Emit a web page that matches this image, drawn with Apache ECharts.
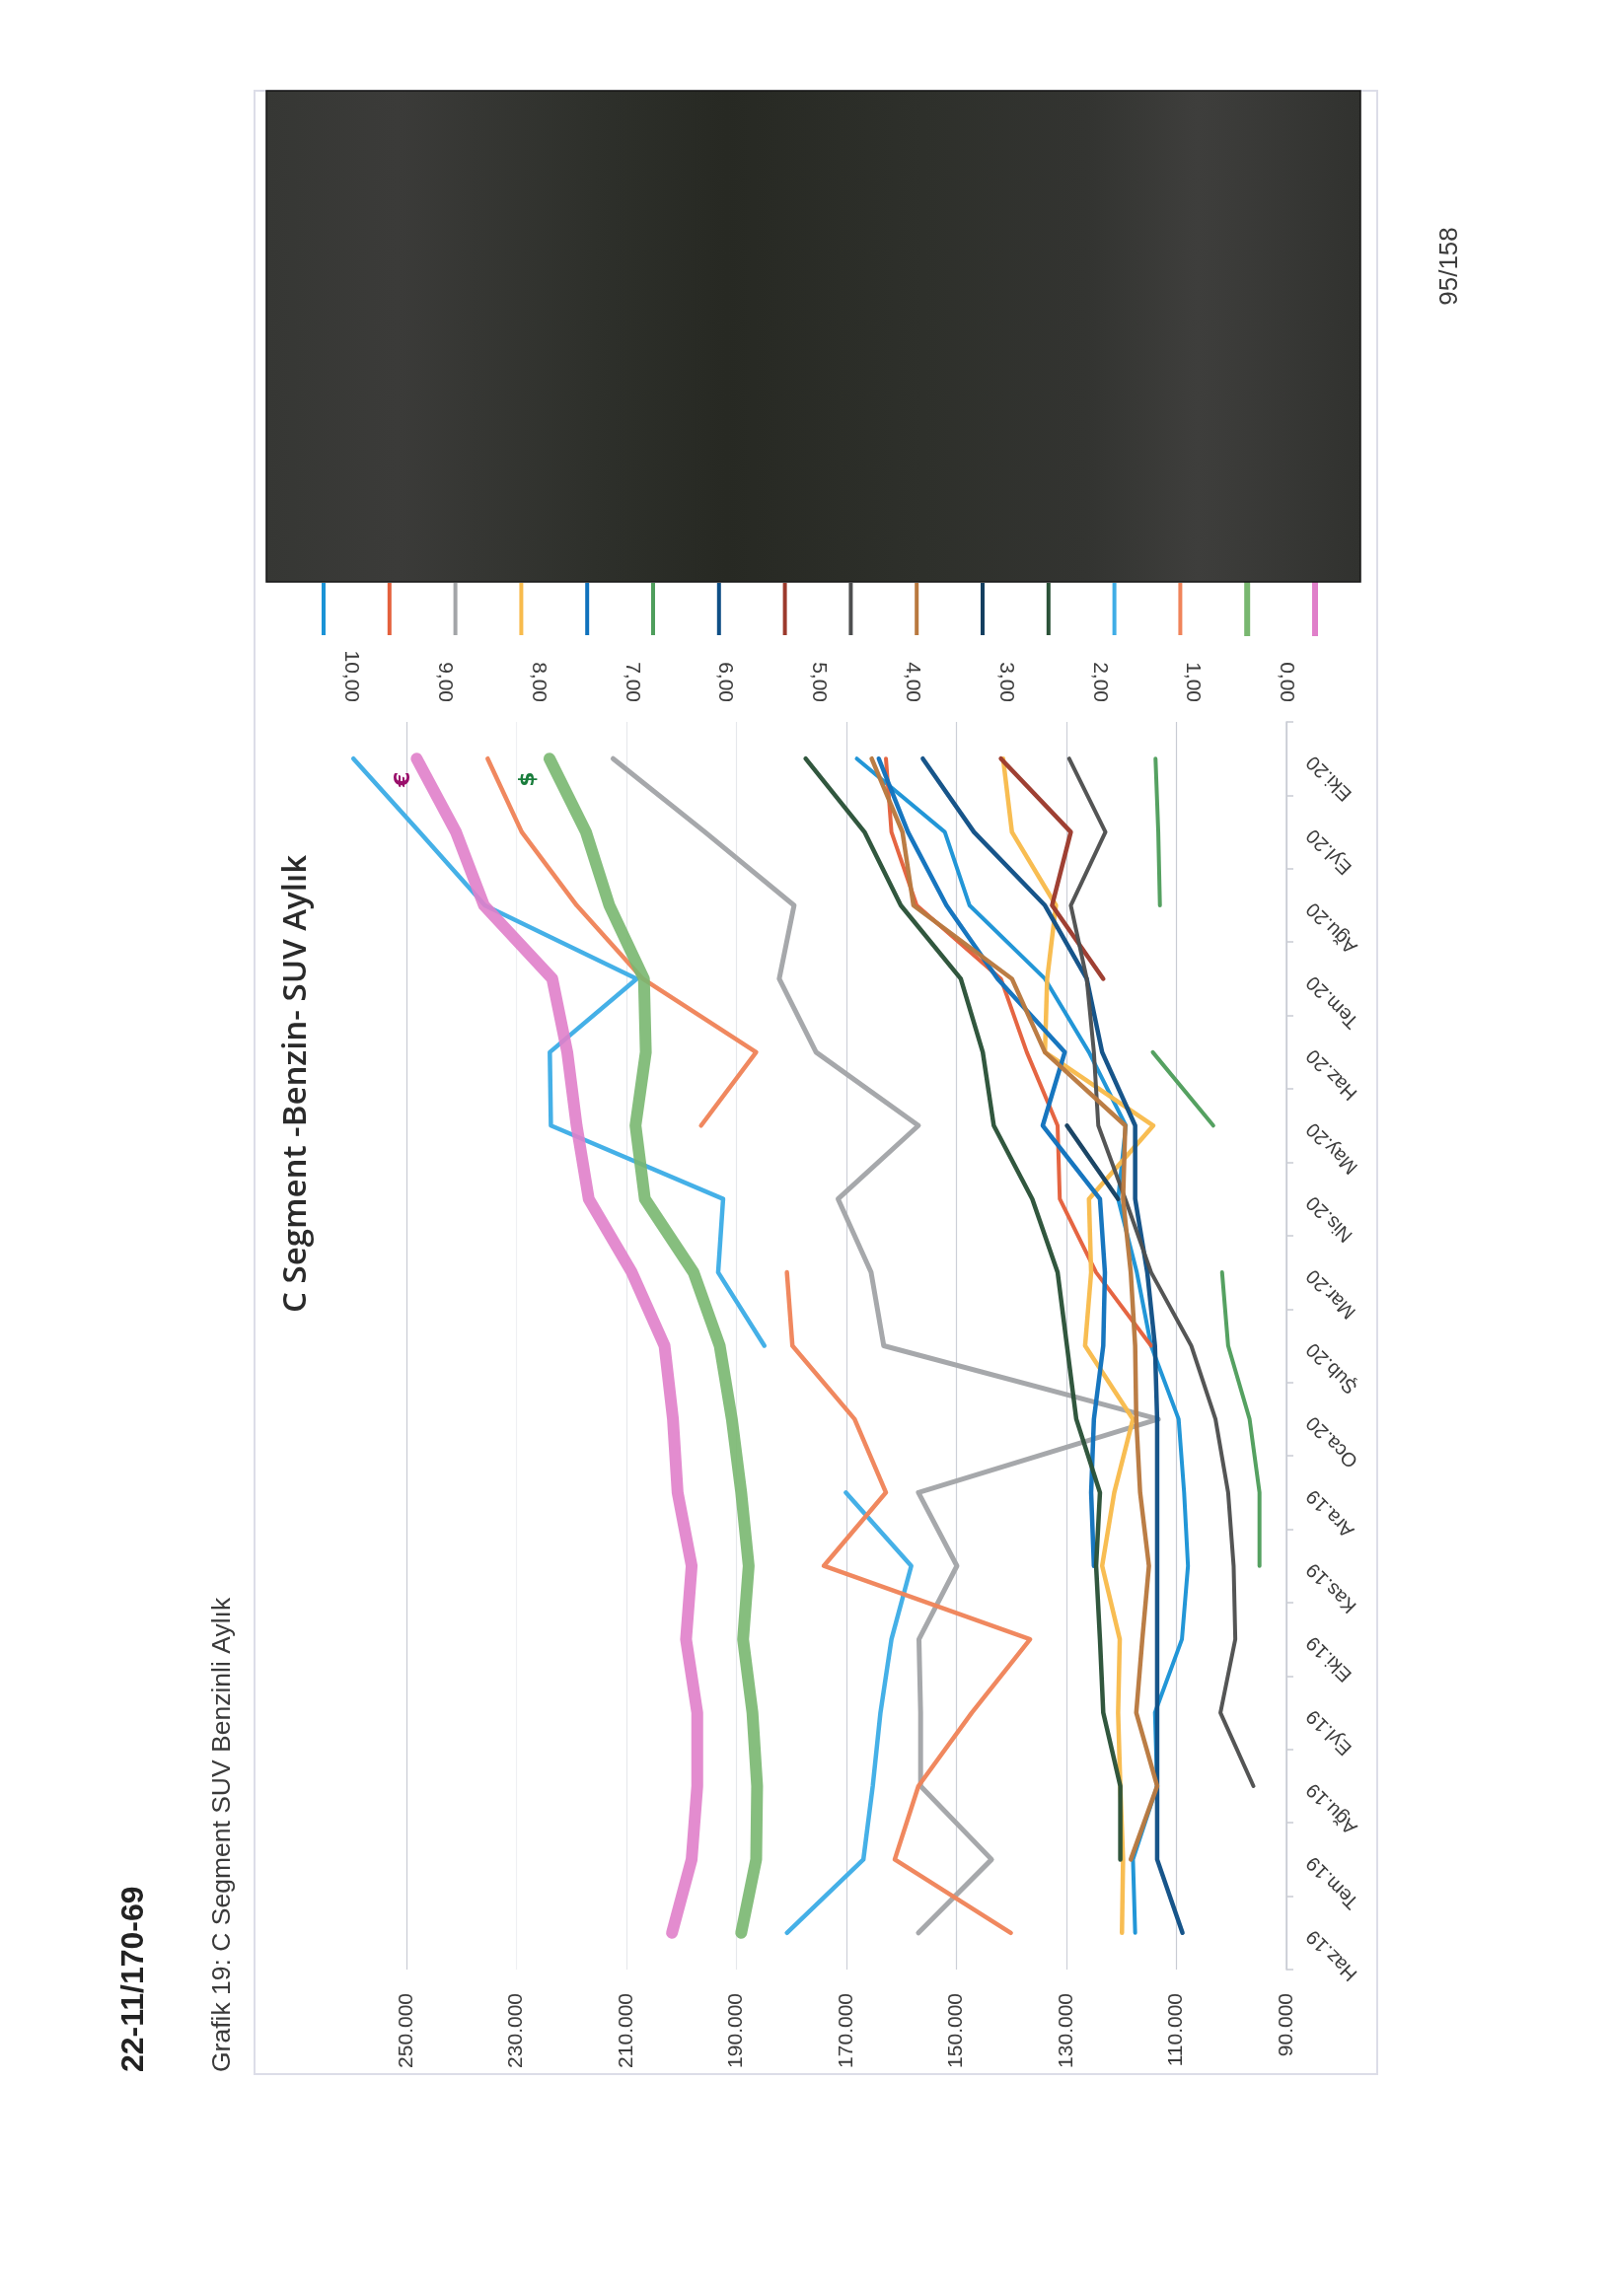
<!DOCTYPE html>
<html><head><meta charset="utf-8">
<style>html,body{margin:0;padding:0;background:#fff}#c{width:1635px;height:2328px}</style>
<script src="https://cdn.jsdelivr.net/npm/echarts@6/dist/echarts.min.js"></script>
</head><body><div id="c"></div>
<script>
const categories = ['Haz.19','Tem.19','Ağu.19','Eyl.19','Eki.19','Kas.19','Ara.19','Oca.20','Şub.20','Mar.20','Nis.20','May.20','Haz.20','Tem.20','Ağu.20','Eyl.20','Eki.20'];
const s1  = [117.5,117.9,113.5,113.9,109.0,107.9,108.6,109.6,114.6,117.2,120.6,119.2,125.9,133.9,147.6,152.1,168.1];
const s2  = [null,null,null,null,null,null,null,null,114.6,124.6,131.2,131.6,137.2,141.9,157.2,161.8,162.8];
const s3  = [156.9,143.6,156.5,156.5,156.8,149.9,156.9,113.3,163.2,165.5,171.5,156.9,175.5,182.2,179.5,195.7,212.4];
const s4  = [119.9,119.7,120.2,120.6,120.3,123.5,121.3,117.9,126.6,125.5,125.9,114.2,133.9,133.5,131.9,139.9,141.5];
const s5  = [null,null,null,null,null,125.0,125.5,125.0,123.3,123.0,123.9,134.3,130.3,142.5,151.8,158.8,164.1];
const s6  = [null,null,null,null,null,94.9,94.9,96.7,100.6,101.7,null,103.3,114.3,null,113.0,113.3,113.8];
const s7  = [108.9,113.5,113.5,113.5,113.5,113.5,113.5,113.5,113.9,115.3,117.5,117.5,123.5,126.3,133.9,146.8,156.1];
const s8  = [null,null,null,null,null,null,null,null,null,null,null,null,null,123.3,132.6,129.2,141.9];
const s9  = [null,null,96.0,102.0,99.3,99.6,100.6,102.9,107.3,114.6,119.3,124.2,125.0,126.3,129.2,122.9,129.5];
const s10 = [null,118.3,113.5,117.3,116.2,115.0,116.6,117.3,117.5,118.3,119.7,119.3,133.9,139.9,157.8,159.8,165.4];
const s11 = [null,null,null,null,null,null,null,null,null,null,120.6,129.9,null,null,null,null,null];
const s12 = [null,120.2,120.2,123.3,123.9,124.6,123.9,128.2,129.9,131.6,136.2,143.2,145.2,149.2,160.1,166.7,177.4];
const s13 = [180.8,166.9,165.2,163.8,161.8,158.2,170.1,null,184.9,193.3,192.4,223.7,223.9,208.1,235.7,247.6,259.6];
const s14 = [140.1,161.2,156.9,147.2,136.6,174.1,162.8,168.5,179.8,180.8,null,196.4,186.4,207.0,219.0,229.0,235.2];
const dolar = [5.83,5.67,5.66,5.71,5.81,5.75,5.83,5.93,6.06,6.34,6.86,6.96,6.85,6.87,7.24,7.49,7.88];
const euro  = [6.57,6.36,6.30,6.30,6.42,6.36,6.51,6.56,6.65,7.00,7.46,7.59,7.69,7.85,8.58,8.88,9.30];

const lineDefs = [
  ['Seri 1', s1, '#1b93d6', 4, 0], ['Seri 2', s2, '#e4603c', 4, 0], ['Seri 3', s3, '#a3a5a8', 5, 0],
  ['Seri 4', s4, '#f8bb4c', 4.5, 0], ['Seri 5', s5, '#0f72bd', 4.5, 0], ['Seri 6', s6, '#4f9e5c', 4, 0],
  ['Seri 7', s7, '#0f4f86', 4.5, 0], ['Seri 8', s8, '#9c3a2c', 4.5, 0], ['Seri 9', s9, '#4e4f50', 4, 0],
  ['Seri 10', s10, '#b9793f', 4.5, 0], ['Seri 11', s11, '#143f60', 4.5, 0], ['Seri 12', s12, '#2a5238', 4.5, 0],
  ['Seri 13', s13, '#3fade6', 4.5, 0], ['Seri 14', s14, '#f0845a', 4.5, 0],
  ['$', dolar, '#79b770', 12, 1], ['€', euro, '#e07fca', 12, 1]
];
const series = lineDefs.map(([name, vals, color, width, axis]) => ({
  name, type:'line', xAxisIndex:axis, yAxisIndex:0, symbol:'none', connectNulls:false, animation:false,
  data: vals.map((v,i)=>[v===null?null:v, i]),
  lineStyle:{color, width, cap:'round', join:'round', opacity:width>10?0.9:0.97},
  itemStyle:{color}
}));
const gridColor = '#c9ccd4';
const gridColors = ['#c9ccd4','#c9ccd4','#cdd0d8','#cdd0d8','#cdd0d8','#e6e8ec','#e6e8ec','#eff0f3','#c9ccd4'];
const labelFont = 'Liberation Sans';
const rot = Math.PI/2;
const txt = (x,y,text,font,fill,align='left') => ({type:'text',x,y,rotation:rot,z:20,style:{text,font,fill,align,verticalAlign:'middle'}});

const chart = echarts.init(document.getElementById('c'), null, {renderer:'canvas'});
chart.setOption({
  backgroundColor:'#ffffff',
  animation:false,
  grid:{left:356,right:1635-1304,top:732,bottom:2328-1997,containLabel:false},
  legend:{show:true,orient:'horizontal',left:326,top:590,padding:0,icon:'rect',itemWidth:4,itemHeight:53,itemGap:62.8,
    formatter:()=>'',selectedMode:false,textStyle:{fontSize:1},z:1,
    data:lineDefs.map(d=>d[3]>10?{name:d[0],itemStyle:{borderWidth:2,borderColor:d[2]}}:{name:d[0]})},
  xAxis:[
    {type:'value',position:'bottom',inverse:true,min:90,max:260,interval:20,
     axisLine:{show:false},axisTick:{show:false},
     splitLine:{show:true,showMaxLine:false,lineStyle:{color:gridColors,width:1.2}},
     axisLabel:{rotate:90,margin:24,fontFamily:labelFont,fontSize:21,color:'#3c3c3c',showMaxLabel:false,
       formatter:v=>v===260?'':v.toFixed(3)}},
    {type:'value',position:'top',inverse:true,min:0,max:10,interval:1,
     axisLine:{show:false},axisTick:{show:false},splitLine:{show:false},
     axisLabel:{rotate:90,margin:20,fontFamily:labelFont,fontSize:21,color:'#3c3c3c',
       formatter:v=>v.toFixed(2).replace('.',',')}}
  ],
  yAxis:[{type:'category',position:'right',data:categories,boundaryGap:true,
     axisLine:{show:true,lineStyle:{color:gridColor,width:1.5}},
     axisTick:{show:true,length:7,lineStyle:{color:gridColor,width:1.5},alignWithLabel:false},
     splitLine:{show:false},
     axisLabel:{interval:0,rotate:135,align:'right',verticalAlign:'middle',margin:24,fontFamily:labelFont,fontSize:20,color:'#3c3c3c'}}],
  series,
  graphic:[
    {type:'rect',z:-10,shape:{x:258,y:92,width:1138,height:2011},style:{fill:'#fff',stroke:'#dcdde8',lineWidth:2}},
    {type:'rect',z:10,shape:{x:270,y:92,width:1109,height:498},style:{
      fill:new echarts.graphic.LinearGradient(0,0,1,0,[
        {offset:0,color:'#363734'},{offset:0.12,color:'#3b3b39'},{offset:0.3,color:'#2e302b'},{offset:0.42,color:'#272923'},
        {offset:0.6,color:'#2e302b'},{offset:0.75,color:'#333431'},{offset:0.85,color:'#3e3e3c'},{offset:1,color:'#31322f'}]),
      stroke:'#161616',lineWidth:1.5}},
    txt(136,2101,'22-11/170-69','bold 32px "Liberation Sans"','#222'),
    txt(226,2101,'Grafik 19: C Segment SUV Benzinli Aylık','26.5px "Liberation Sans"','#3a3a3a'),
    txt(301,1331,'C Segment -Benzin- SUV Aylık','600 33px "Open Sans"','#2a2a2a'),
    txt(1470,270,'95/158','26px "Liberation Sans"','#3c3c3c','center'),
    txt(409,790,'€','bold 22px "DejaVu Sans"','#9a0f6b','center'),
    txt(535,790,'$','bold 22px "DejaVu Sans"','#1a7d3c','center')
  ]
});
</script></body></html>
